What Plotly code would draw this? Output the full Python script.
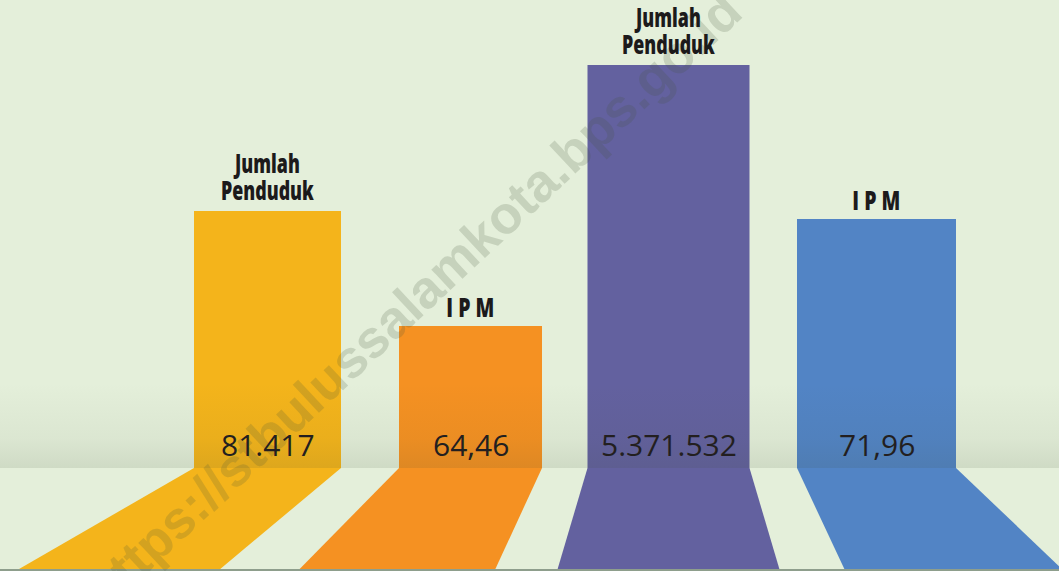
import plotly.graph_objects as go

# ---- data ----
kategori = ["Jumlah Penduduk", "IPM", "Jumlah Penduduk", "IPM"]
label_atas = ["Jumlah<br>Penduduk", "I P M", "Jumlah<br>Penduduk", "I P M"]
nilai_label = ["81.417", "64,46", "5.371.532", "71,96"]
tinggi_tampilan = [257, 142, 403, 249]   # displayed bar heights (infographic, not to scale)
warna = ["#F4B41B", "#F59122", "#63619F", "#5284C5"]
watermark = "https://stbulussalamkota.bps.go.id"

# ---- layout helpers ----
W, H = 1059, 571
PX_PER_UNIT = 203.0
X0_PX = 267.5                        # pixel of category index 0
FLOOR_PX = 468                       # floor line pixel (y = 0)
y_lo, y_hi = -(H - FLOOR_PX), FLOOR_PX
x_lo = -X0_PX / PX_PER_UNIT
x_hi = (W - X0_PX) / PX_PER_UNIT

xs = list(range(len(kategori)))
widths = [147 / PX_PER_UNIT, 143 / PX_PER_UNIT, 162 / PX_PER_UNIT, 159 / PX_PER_UNIT]
shift = [0, 0, -5 / PX_PER_UNIT, 0]
offsets = [-w / 2 + s for w, s in zip(widths, shift)]
centers = [x + s for x, s in zip(xs, shift)]

# perspective for floor "shadows"
vp = (668.5 - X0_PX) / PX_PER_UNIT
spread = 1.376

fig = go.Figure()

# floor strips
for i in xs:
    left = xs[i] + offsets[i]
    right = left + widths[i]
    lb = vp + (left - vp) * spread
    rb = vp + (right - vp) * spread
    fig.add_trace(go.Scatter(
        x=[left, right, rb, lb, left],
        y=[0, 0, y_lo, y_lo, 0],
        mode="lines", line=dict(width=0), fill="toself",
        fillcolor=warna[i], hoverinfo="skip", showlegend=False))

# bars
fig.add_trace(go.Bar(
    x=xs, y=tinggi_tampilan, width=widths, offset=offsets,
    marker=dict(color=warna, line=dict(width=0)),
    hoverinfo="skip", showlegend=False))

# horizon shading band
fig.add_trace(go.Scatter(
    x=[x_lo, x_hi, x_hi, x_lo, x_lo],
    y=[0, 0, 85, 85, 0],
    mode="lines", line=dict(width=0), fill="toself",
    fillgradient=dict(type="vertical", start=0, stop=85,
                      colorscale=[[0, "rgba(55,70,45,0.12)"],
                                  [0.35, "rgba(55,70,45,0.05)"],
                                  [1, "rgba(55,70,45,0)"]]),
    hoverinfo="skip", showlegend=False))

ann = []
# watermark
ann.append(dict(text=watermark, xref="paper", yref="paper",
                x=412 / W, y=(H - 300) / H, showarrow=False, textangle=-43,
                font=dict(family="Liberation Sans, Arial, sans-serif", size=53,
                          weight="bold", color="rgba(70,85,60,0.19)"),
                xanchor="center", yanchor="middle"))

title_font = dict(family="Open Sans, Noto Sans, sans-serif",
                  size=27, color="#1C1A1B", weight=800)
for i in xs:
    two_lines = "<br>" in label_atas[i]
    ann.append(dict(text=label_atas[i], x=centers[i],
                    y=tinggi_tampilan[i] + (-7 if two_lines else -1),
                    xref="x", yref="y", showarrow=False,
                    xanchor="center", yanchor="bottom", font=title_font))
    ann.append(dict(text=nilai_label[i], x=centers[i], y=24, xref="x", yref="y",
                    showarrow=False, xanchor="center", yanchor="middle",
                    font=dict(family="Open Sans, Noto Sans, sans-serif",
                              size=30, color="#231F20")))

fig.update_layout(
    width=W, height=H, margin=dict(l=0, r=0, t=0, b=0),
    paper_bgcolor="#E4EFDA", plot_bgcolor="#E4EFDA",
    xaxis=dict(range=[x_lo, x_hi], visible=False, fixedrange=True),
    yaxis=dict(range=[y_lo, y_hi], visible=False, fixedrange=True),
    showlegend=False, hovermode=False, annotations=ann,
    shapes=[dict(type="line", xref="paper", yref="y", x0=0, x1=1,
                 y0=y_lo + 1, y1=y_lo + 1, line=dict(color="#8E9E8C", width=2))],
)

post = """
document.body.style.margin = '0';
document.body.style.padding = '0';
document.querySelectorAll('text.annotation-text').forEach(function (t) {
  var s = t.textContent;
  var sx = null;
  if (s.indexOf('Penduduk') >= 0) { sx = 0.66; }
  else if (s === 'I P M') { sx = 0.72; }
  if (sx !== null) {
    t.querySelectorAll('tspan.line').forEach(function (ts, k) {
      if (k > 0) { ts.setAttribute('dy', '1em'); }
    });
    t.style.transformBox = 'fill-box';
    t.style.transformOrigin = 'center';
    t.style.transform = 'scaleX(' + sx + ')';
  }
});
"""

fig.write_html("out.html", post_script=post, config={"staticPlot": True})
